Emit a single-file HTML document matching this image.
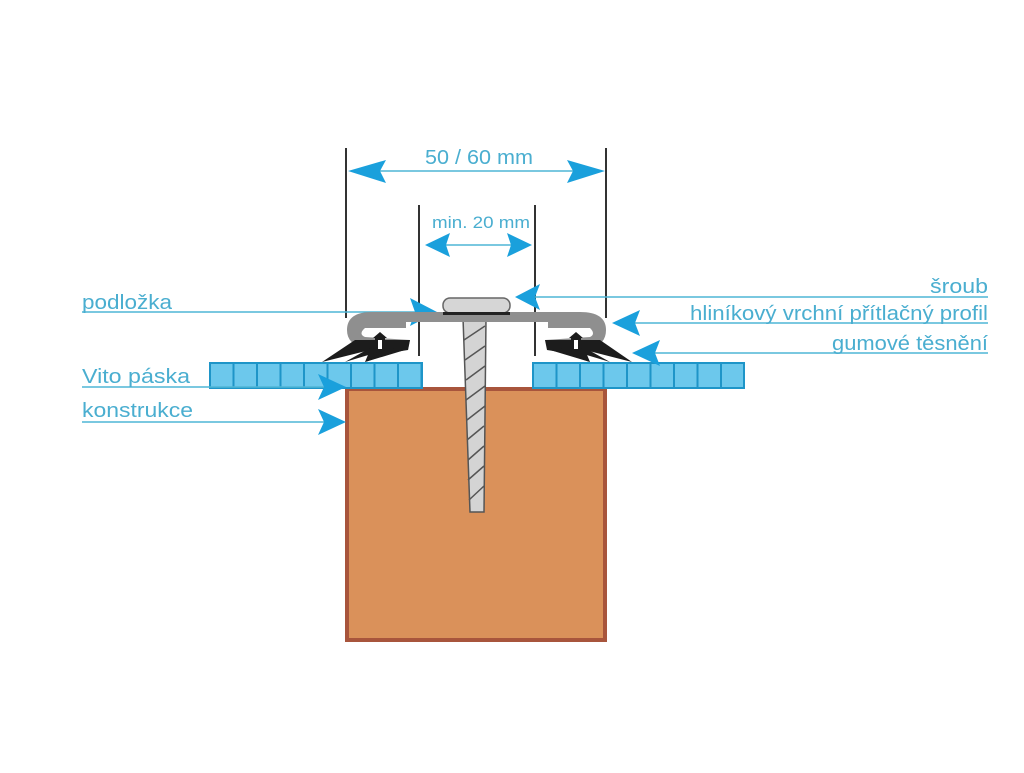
<!DOCTYPE html>
<html><head><meta charset="utf-8"><style>html,body{margin:0;padding:0;background:#fff}</style></head>
<body>
<svg width="1024" height="768" viewBox="0 0 1024 768" xmlns="http://www.w3.org/2000/svg" font-family="Liberation Sans Narrow, Liberation Sans, sans-serif">
<rect width="1024" height="768" fill="#fff"/>
<defs>
<pattern id="cells" x="210" y="363" width="23.5" height="25" patternUnits="userSpaceOnUse">
<rect x="0" y="0" width="23.5" height="25" fill="#6cc8ec" stroke="#1e95c8" stroke-width="2"/>
</pattern>
<pattern id="cells2" x="533" y="363" width="23.5" height="25" patternUnits="userSpaceOnUse">
<rect x="0" y="0" width="23.5" height="25" fill="#6cc8ec" stroke="#1e95c8" stroke-width="2"/>
</pattern>
</defs>
<rect x="347" y="389" width="258" height="251" fill="#da915a" stroke="#a8553c" stroke-width="4"/>
<rect x="210" y="363" width="212" height="25" fill="url(#cells)" stroke="#1e95c8" stroke-width="2"/>
<rect x="533" y="363" width="211" height="25" fill="url(#cells2)" stroke="#1e95c8" stroke-width="2"/>
<g stroke="#333" stroke-width="2">
<line x1="346" y1="148" x2="346" y2="318"/>
<line x1="606" y1="148" x2="606" y2="318"/>
<line x1="419" y1="205" x2="419" y2="356"/>
<line x1="535" y1="205" x2="535" y2="356"/>
</g>
<g stroke="#4fb6d6" stroke-width="1.5">
<line x1="360" y1="171" x2="595" y2="171"/>
<line x1="430" y1="245" x2="525" y2="245"/>
<line x1="82" y1="312" x2="425" y2="312"/>
<line x1="525" y1="297" x2="988" y2="297"/>
<line x1="625" y1="323" x2="988" y2="323"/>
<line x1="645" y1="353" x2="988" y2="353"/>
<line x1="82" y1="387" x2="330" y2="387"/>
<line x1="82" y1="422" x2="335" y2="422"/>
</g>
<g fill="#1aa0dc">
<polygon points="348,171 386,160 380,171 386,183"/>
<polygon points="605,171 567,160 573,171 567,183"/>
<polygon points="425,245 450,233 446,245 450,257"/>
<polygon points="532,245 507,233 511,245 507,257"/>
<polygon points="437,312 410,298 415,312 410,326"/>
<polygon points="515,297 540,284 535,297 540,310"/>
<polygon points="612,323 640,310 635,323 640,336"/>
<polygon points="632,353 660,340 655,353 660,366"/>
<polygon points="346,387 318,374 324,387 318,400"/>
<polygon points="346,422 318,409 324,422 318,435"/>
</g>
<polygon points="463,318 486,318 484,512 470,512" fill="#d4d4d4" stroke="#555" stroke-width="1.5"/>
<g stroke="#555" stroke-width="1.5">
<line x1="464" y1="340" x2="485" y2="326"/><line x1="465" y1="360" x2="485" y2="346"/>
<line x1="466" y1="380" x2="485" y2="366"/><line x1="466" y1="400" x2="485" y2="386"/>
<line x1="467" y1="420" x2="485" y2="406"/><line x1="467" y1="440" x2="484" y2="426"/>
<line x1="468" y1="460" x2="484" y2="446"/><line x1="468" y1="480" x2="484" y2="466"/>
<line x1="469" y1="500" x2="484" y2="486"/>
</g>
<path d="M372,312 L580,312 Q606,312 606,330 Q606,345 590,347 L548,350 L545,340 L590,337 Q596,334 590,328 L548,328 L548,322 L406,322 L406,328 L365,328 Q358,334 365,337 L410,340 L408,350 L365,347 Q347,345 347,330 Q347,312 372,312 Z" fill="#8f8f8f"/>
<rect x="443" y="298" width="67" height="15" rx="7" fill="#d6d6d6" stroke="#666" stroke-width="1.5"/>
<rect x="443" y="312" width="67" height="3" fill="#222"/>
<g fill="#1c1c1c">
<path d="M373,338 L380,332 L387,338 L385,338 L385,352 L375,352 L375,338 Z"/>
<path d="M322,362 L355,340 L410,340 L408,350 L395,352 L365,362 L370,350 Z"/>
<path d="M345,362 L370,348 L385,350 Z"/>
<path d="M365,362 L390,348 L405,350 Z"/>
<path d="M569,338 L576,332 L583,338 L581,338 L581,352 L571,352 L571,338 Z"/>
<path d="M632,362 L600,340 L545,340 L547,350 L560,352 L590,362 L585,350 Z"/>
<path d="M610,362 L585,348 L570,350 Z"/>
<path d="M590,362 L565,348 L550,350 Z"/>
</g>
<rect x="378" y="340" width="4" height="9" fill="#fff"/>
<rect x="574" y="340" width="4" height="9" fill="#fff"/>
<g fill="#4aaed0" font-size="20">
<text x="425" y="164" textLength="108" lengthAdjust="spacingAndGlyphs">50 / 60 mm</text>
<text x="432" y="228" font-size="17" textLength="98" lengthAdjust="spacingAndGlyphs">min. 20 mm</text>
<text x="82" y="309" textLength="90" lengthAdjust="spacingAndGlyphs">podložka</text>
<text x="82" y="383" textLength="108" lengthAdjust="spacingAndGlyphs">Vito páska</text>
<text x="82" y="417" textLength="111" lengthAdjust="spacingAndGlyphs">konstrukce</text>
<text x="930" y="293" textLength="58" lengthAdjust="spacingAndGlyphs">šroub</text>
<text x="690" y="320" textLength="298" lengthAdjust="spacingAndGlyphs">hliníkový vrchní přítlačný profil</text>
<text x="832" y="350" textLength="156" lengthAdjust="spacingAndGlyphs">gumové těsnění</text>
</g>
</svg>
</body></html>
